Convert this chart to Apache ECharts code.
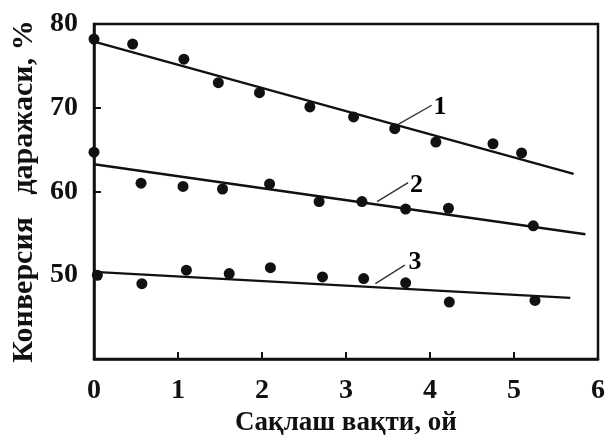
<!DOCTYPE html>
<html>
<head>
<meta charset="utf-8">
<script src="https://cdn.jsdelivr.net/npm/echarts@6/dist/echarts.min.js"></script>
<style>
  html, body { margin: 0; padding: 0; background: #fff; }
  #chart { width: 609px; height: 436px; }
</style>
</head>
<body>
<div id="chart"></div>
<script>
// Storage time (months) vs conversion degree (%) for three samples
const points1 = [[0, 78.2], [0.46, 77.6], [1.07, 75.8], [1.48, 73.0], [1.97, 71.8], [2.57, 70.1],
                 [3.09, 68.9], [3.58, 67.5], [4.07, 65.9], [4.75, 65.7], [5.09, 64.6]];
const points2 = [[0, 64.7], [0.56, 61.0], [1.06, 60.6], [1.53, 60.3], [2.09, 60.9], [2.68, 58.8],
                 [3.19, 58.8], [3.71, 57.9], [4.22, 58.0], [5.23, 55.9]];
const points3 = [[0.04, 50.0], [0.57, 49.0], [1.10, 50.6], [1.61, 50.2], [2.10, 50.9], [2.72, 49.8],
                 [3.21, 49.6], [3.71, 49.1], [4.23, 46.8], [5.25, 47.0]];

// Straight trend lines through each sample
const trend1 = [[0, 77.9], [5.71, 62.1]];
const trend2 = [[0, 63.25], [5.85, 54.9]];
const trend3 = [[0, 50.4], [5.67, 47.3]];

// Curve numbers and their leader lines
const curveNames = ['1', '2', '3'];
const curveLabelPos = [[4.12, 70.1], [3.84, 60.8], [3.82, 51.6]];
const leaders = [
  [[3.60, 67.9], [4.02, 70.3]],
  [[3.37, 58.8], [3.74, 61.05]],
  [[3.35, 49.0], [3.70, 51.2]]
];

const xTicks = [0, 1, 2, 3, 4, 5, 6];
const yTicks = [50, 60, 70, 80];

const FONT = '"Liberation Serif", "DejaVu Serif", serif';

const series = [];
[points1, points2, points3].forEach(function (pts) {
  series.push({
    type: 'scatter', data: pts, symbol: 'circle', symbolSize: 11,
    itemStyle: { color: '#111', opacity: 1 }, z: 4
  });
});
[trend1, trend2, trend3].forEach(function (tr) {
  series.push({
    type: 'line', data: tr, symbol: 'none',
    lineStyle: { color: '#111', width: 2.4 }, z: 3
  });
});
leaders.forEach(function (ld) {
  series.push({
    type: 'line', data: ld, symbol: 'none',
    lineStyle: { color: '#333', width: 1.4 }, z: 3
  });
});
series.push({
  type: 'scatter', symbolSize: 0,
  itemStyle: { color: '#000', opacity: 1 },
  data: curveLabelPos.map(function (p, i) { return { value: p, name: curveNames[i] }; }),
  label: {
    show: true, position: 'inside', formatter: '{b}',
    color: '#000', textBorderWidth: 0, fontFamily: FONT, fontWeight: 'bold', fontSize: 26
  },
  z: 5
});

const chart = echarts.init(document.getElementById('chart'));
chart.setOption({
  animation: false,
  backgroundColor: '#fff',
  grid: {
    left: 94, right: 11, top: 24, bottom: 77,
    outerBoundsMode: 'none', containLabel: false,
    show: true, borderColor: '#111', borderWidth: 2.5
  },
  xAxis: {
    type: 'value', min: 0, max: 6, interval: 1,
    name: 'Сақлаш вақти, ой', nameLocation: 'middle', nameGap: 47,
    nameTextStyle: { color: '#111', fontFamily: FONT, fontWeight: 'bold', fontSize: 27 },
    axisLine: { show: true, lineStyle: { color: '#111', width: 2.5 } },
    axisTick: { show: true, inside: true, length: 7, lineStyle: { color: '#111', width: 2 } },
    splitLine: { show: false },
    axisLabel: {
      color: '#111', fontFamily: FONT, fontWeight: 'bold', fontSize: 28, margin: 18,
      formatter: function (v) { return xTicks.indexOf(v) >= 0 ? String(v) : ''; }
    }
  },
  yAxis: {
    type: 'value', min: 40, max: 80, interval: 10,
    name: 'Конверсия   даражаси, %', nameLocation: 'middle', nameGap: 55, nameRotate: 90,
    nameTextStyle: { color: '#111', fontFamily: FONT, fontWeight: 'bold', fontSize: 30 },
    axisLine: { show: true, lineStyle: { color: '#111', width: 2.5 } },
    axisTick: { show: true, inside: true, length: 7, lineStyle: { color: '#111', width: 2 } },
    splitLine: { show: false },
    axisLabel: {
      color: '#111', fontFamily: FONT, fontWeight: 'bold', fontSize: 28, margin: 16,
      formatter: function (v) { return yTicks.indexOf(v) >= 0 ? String(v) : ''; }
    }
  },
  series: series
});
</script>
</body>
</html>
